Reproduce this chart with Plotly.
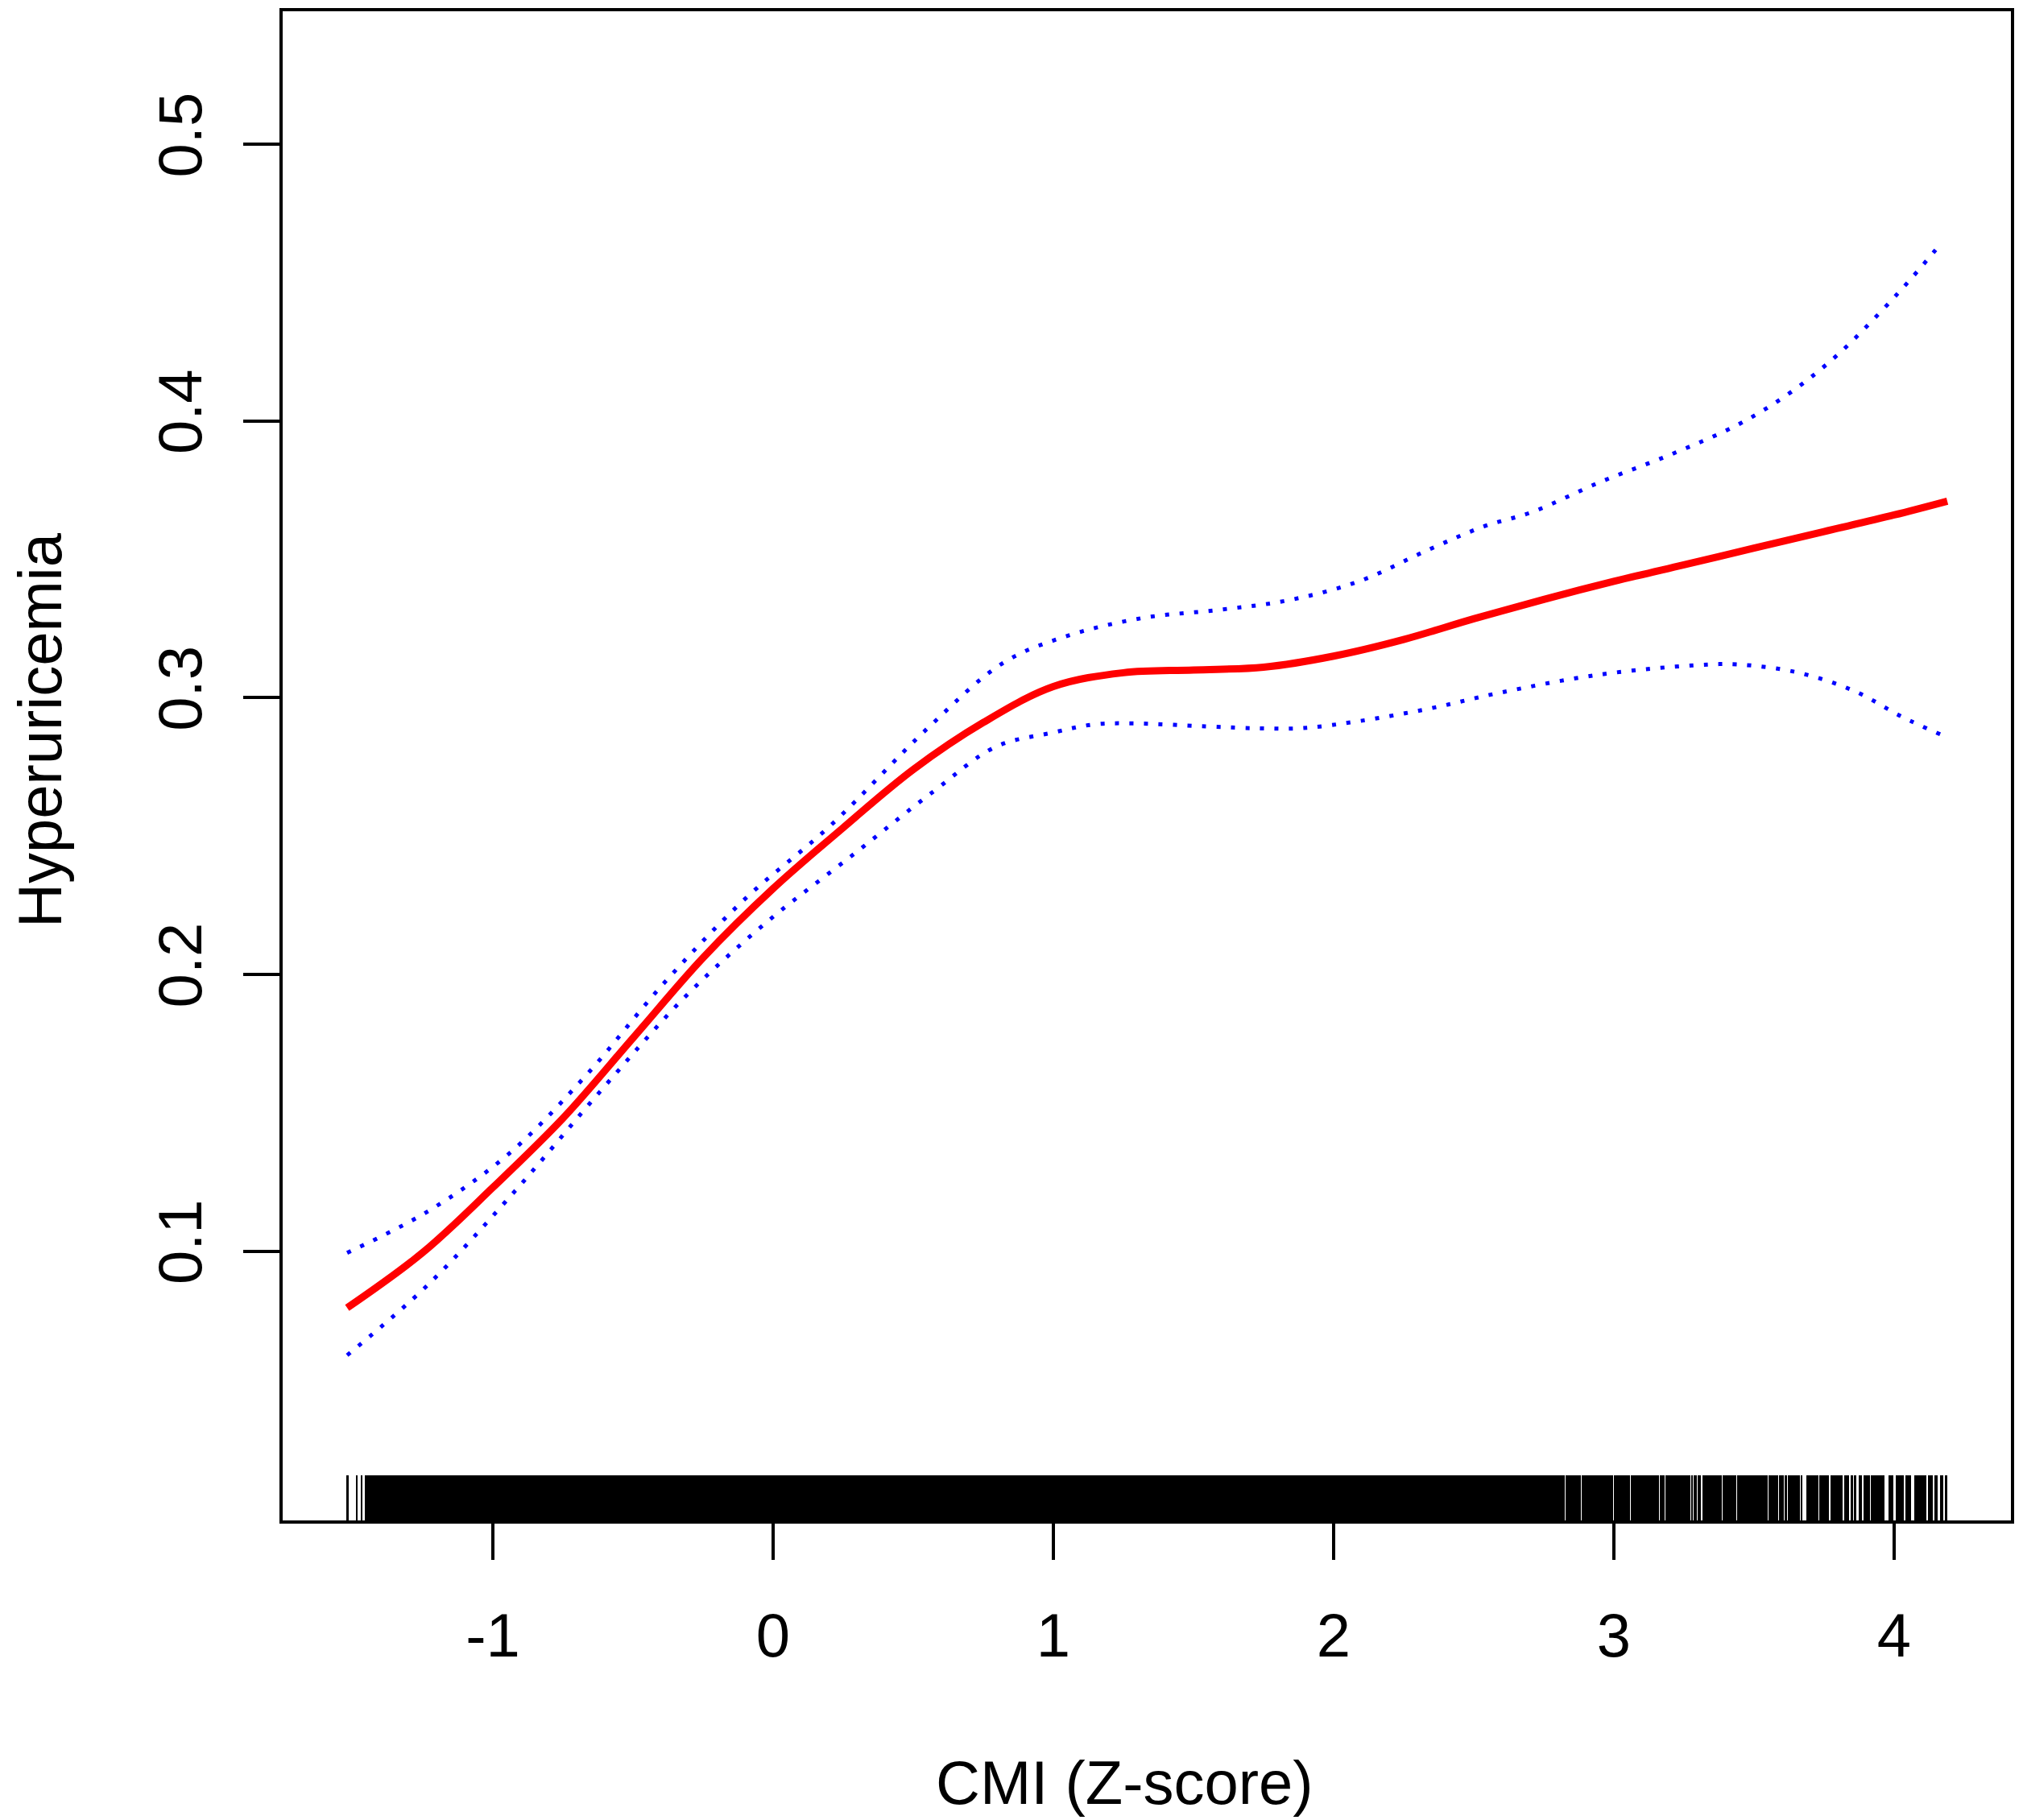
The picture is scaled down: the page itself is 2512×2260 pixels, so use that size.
import plotly.graph_objects as go

# Smooth curve fit (red) and its confidence limits (blue dotted)
fit_x = [-1.52, -1.25, -1.0, -0.75, -0.5, -0.25, 0.0, 0.25, 0.5, 0.75, 1.0, 1.25,
         1.5, 1.75, 2.0, 2.25, 2.5, 2.75, 3.0, 3.25, 3.5, 3.75, 4.0, 4.19]
fit_y = [0.0795, 0.0995, 0.123, 0.148, 0.177, 0.206, 0.231, 0.253, 0.274, 0.291, 0.304, 0.309,
         0.310, 0.311, 0.315, 0.321, 0.3285, 0.3355, 0.342, 0.348, 0.354, 0.360, 0.366, 0.371]

upper_x = [-1.52, -1.23, -0.945, -0.672, -0.388, -0.103, 0.207, 0.552, 0.82, 1.04, 1.32, 1.59,
           1.84, 2.09, 2.34, 2.54, 2.707, 2.954, 3.207, 3.45, 3.635, 3.80, 3.955, 4.066, 4.17]
upper_y = [0.0994, 0.1145, 0.135, 0.163, 0.197, 0.227, 0.254, 0.289, 0.3125, 0.322, 0.3288, 0.3317,
           0.3352, 0.342, 0.3535, 0.362, 0.367, 0.378, 0.388, 0.399, 0.4106, 0.424, 0.4397, 0.452, 0.4644]

lower_x = [-1.52, -1.23, -0.922, -0.606, -0.313, -0.026, 0.29, 0.571, 0.796, 0.995, 1.144, 1.29,
           1.543, 1.74, 1.89, 2.09, 2.34, 2.59, 2.94, 3.29, 3.44, 3.66, 3.86, 4.03, 4.17]
lower_y = [0.0624, 0.088, 0.1216, 0.159, 0.192, 0.2186, 0.2436, 0.266, 0.2823, 0.2873, 0.2903, 0.2907,
           0.2896, 0.2889, 0.289, 0.2915, 0.296, 0.3017, 0.3082, 0.3117, 0.312, 0.309, 0.3023, 0.293, 0.2865]

# Rug of observed CMI values: start / end of every black stretch along the x axis
rug_start = [-1.523, -1.489, -1.471, -1.457, 2.829, 2.884, 2.909, 2.999, 3.062, 3.165, 3.185,
             3.277, 3.286, 3.300, 3.315, 3.387, 3.441, 3.552, 3.589, 3.609, 3.621, 3.667,
             3.687, 3.733, 3.773, 3.822, 3.845, 3.856, 3.874, 3.891, 3.917, 3.980, 4.006,
             4.040, 4.072, 4.121, 4.144, 4.164, 4.181]
rug_end = [-1.514, -1.483, -1.466, 2.826, 2.881, 2.907, 2.996, 3.059, 3.162, 3.182, 3.274,
           3.283, 3.297, 3.312, 3.384, 3.438, 3.549, 3.586, 3.606, 3.618, 3.664, 3.672,
           3.730, 3.767, 3.816, 3.839, 3.853, 3.865, 3.885, 3.914, 3.966, 3.997, 4.034,
           4.060, 4.115, 4.138, 4.155, 4.175, 4.190]

x_ticks = [-1, 0, 1, 2, 3, 4]
x_ticktext = ["-1", "0", "1", "2", "3", "4"]
y_ticks = [0.1, 0.2, 0.3, 0.4, 0.5]
y_ticktext = ["0.1", "0.2", "0.3", "0.4", "0.5"]

FONT = "Liberation Sans, Arial, Helvetica, sans-serif"

rug_mid = [(a + b) / 2 for a, b in zip(rug_start, rug_end)]
rug_w = [b - a for a, b in zip(rug_start, rug_end)]

fig = go.Figure()

# rug along the bottom (R rug ticksize 0.03)
fig.add_trace(go.Bar(x=rug_mid, y=[0.03] * len(rug_mid), width=rug_w, base=0,
                     marker=dict(color="black", line=dict(width=0)),
                     yaxis="y2", showlegend=False, hoverinfo="skip"))

fig.add_trace(go.Scatter(x=upper_x, y=upper_y, mode="lines", line_shape="spline",
                         line=dict(color="#0000FF", width=5, dash="5px,13px"), showlegend=False))
fig.add_trace(go.Scatter(x=lower_x, y=lower_y, mode="lines", line_shape="spline",
                         line=dict(color="#0000FF", width=5, dash="5px,13px"), showlegend=False))
fig.add_trace(go.Scatter(x=fit_x, y=fit_y, mode="lines", line_shape="spline",
                         line=dict(color="#FF0000", width=9), showlegend=False))

# page body adds ~8px offset, so the figure is a bit smaller than the window
fig.update_layout(
    width=2504, height=2252,
    margin=dict(l=343, r=15, t=6, b=372),
    paper_bgcolor="white", plot_bgcolor="white",
    font=dict(family=FONT, size=76, color="black"),
    bargap=0,
    xaxis=dict(range=[-1.75, 4.417], tickvals=x_ticks, ticktext=x_ticktext,
               ticks="outside", ticklen=45, tickwidth=4,
               tickcolor="black", showline=True, linewidth=4, linecolor="black", mirror=True,
               showgrid=False, zeroline=False, ticklabelstandoff=29, automargin=False),
    yaxis=dict(range=[0.0027, 0.548], tickvals=y_ticks, ticktext=y_ticktext, tickangle=-90,
               ticks="outside", ticklen=45, tickwidth=4, tickcolor="black",
               showline=True, linewidth=4, linecolor="black", mirror=True,
               showgrid=False, zeroline=False, ticklabelstandoff=22, automargin=False),
    yaxis2=dict(range=[0, 1], overlaying="y", visible=False, fixedrange=True),
)

# axis titles (placed like the original, slightly off the plot centre)
fig.add_annotation(text="CMI (Z-score)", xref="paper", yref="paper", x=0.487, y=0,
                   xanchor="center", yanchor="middle", yshift=-325, showarrow=False,
                   font=dict(size=76))
fig.add_annotation(text="Hyperuricemia", xref="paper", yref="paper", x=0, y=0.5235,
                   xanchor="center", yanchor="middle", xshift=-301, textangle=-90,
                   showarrow=False, font=dict(size=76))

fig.write_html("out.html")
